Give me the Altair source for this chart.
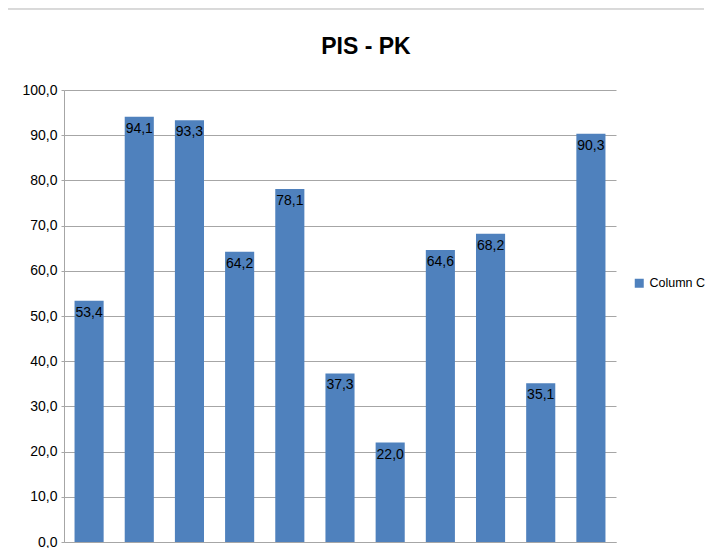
import altair as alt
import pandas as pd

categories = [str(i) for i in range(1, 12)]
values = [53.4, 94.1, 93.3, 64.2, 78.1, 37.3, 22.0, 64.6, 68.2, 35.1, 90.3]
series = ["Column C"] * len(values)
y_ticks = [0, 10, 20, 30, 40, 50, 60, 70, 80, 90, 100]

df = pd.DataFrame({"cat": categories, "value": values, "series": series})

FONT = "Liberation Sans"
BAR = "#4F81BD"

x_enc = alt.X("cat:N", sort=categories,
              scale=alt.Scale(paddingInner=0.42, paddingOuter=0.21),
              axis=alt.Axis(title=None, labels=False, ticks=False, domain=True,
                            domainColor="#A6A6A6", grid=False))
y_scale = alt.Scale(domain=[0, 100], nice=False)

bars = alt.Chart(df).mark_bar(color=BAR).encode(
    x=x_enc,
    y=alt.Y("value:Q", scale=y_scale,
            axis=alt.Axis(title=None, values=y_ticks,
                          labelExpr="replace(format(datum.value, '.1f'), '.', ',')",
                          labelFont=FONT, labelFontSize=14, labelColor="#000000",
                          tickSize=3, tickColor="#A6A6A6", labelPadding=4,
                          domainColor="#A6A6A6", gridColor="#A6A6A6")),
    color=alt.Color("series:N", scale=alt.Scale(range=[BAR]),
                    legend=alt.Legend(title=None, orient="none", legendX=569, legendY=187,
                                      symbolType="square", symbolSize=81,
                                      labelFont=FONT, labelFontSize=12.5, labelColor="#000000",
                                      labelOffset=4, symbolStrokeWidth=0)),
)

labels = alt.Chart(df).mark_text(baseline="top", dy=5, font=FONT, fontSize=14,
                                 color="#000000").encode(
    x=alt.X("cat:N", sort=categories),
    y=alt.Y("value:Q", scale=y_scale),
    text=alt.Text("label:N"),
).transform_calculate(label="replace(format(datum.value, '.1f'), '.', ',')")

border_top = alt.Chart(df).mark_rule(color="#D9D9D9").encode(
    x=alt.value(-57), x2=alt.value(640), y=alt.value(-81))
border_left = alt.Chart(df).mark_rule(color="#D9D9D9").encode(
    x=alt.value(-57), y=alt.value(-81), y2=alt.value(460))

chart = alt.layer(border_top, border_left, bars, labels).properties(
    width=552, height=452,
    title=alt.TitleParams("PIS - PK", font=FONT, fontSize=23, fontWeight="bold",
                          color="#000000", anchor="middle", dx=26, offset=-50),
    autosize=alt.AutoSizeParams(type="none"),
    padding={"left": 56, "top": 82, "right": 90, "bottom": 6},
).configure_view(stroke=None)

chart.save("out.html", embed_options={"renderer": "svg", "actions": False})
